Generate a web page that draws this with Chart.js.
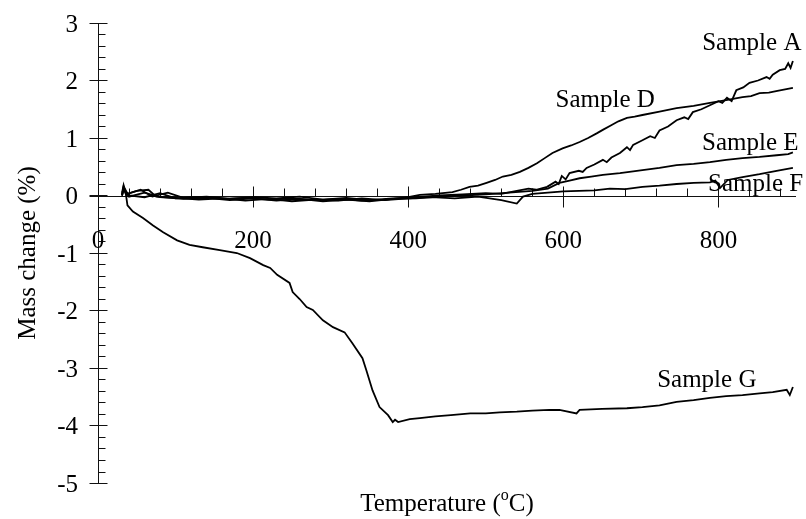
<!DOCTYPE html>
<html>
<head>
<meta charset="utf-8">
<title>Mass change vs temperature</title>
<script src="https://cdn.jsdelivr.net/npm/chart.js@4"></script>
<style>
  body { margin: 0; background: #fff; }
</style>
</head>
<body>
<canvas id="tgChart" width="806" height="519"></canvas>
<script>
// data (temperature in C, mass change in %)
const tempA = [31, 33, 36, 45, 55, 70, 90, 110, 140, 170, 200, 230, 260, 290, 320, 350, 380, 410, 440, 470, 500, 520, 540, 555, 565, 579, 590, 594, 598, 603, 608, 620, 625, 630, 640, 651, 656, 662, 673, 682, 686, 690, 702, 712, 718, 724, 735, 746, 756, 761, 767, 778, 789, 800, 805, 811, 817, 823, 832, 840, 851, 862, 866, 870, 879, 886, 890, 893, 896];
const massA = [0.0, 0.14, 0.02, 0.06, 0.1, -0.02, 0.05, -0.04, -0.02, -0.06, -0.03, -0.05, -0.02, -0.07, -0.04, -0.08, -0.05, -0.03, 0.0, 0.02, 0.04, 0.03, 0.08, 0.12, 0.1, 0.15, 0.24, 0.2, 0.34, 0.28, 0.39, 0.43, 0.41, 0.48, 0.54, 0.62, 0.58, 0.66, 0.74, 0.84, 0.79, 0.88, 0.96, 1.03, 1.0, 1.13, 1.2, 1.31, 1.36, 1.33, 1.45, 1.5, 1.57, 1.64, 1.61, 1.7, 1.64, 1.83, 1.88, 1.96, 2.0, 2.06, 2.03, 2.1, 2.18, 2.2, 2.3, 2.22, 2.34];

const tempD = [31, 33, 40, 60, 80, 100, 130, 160, 190, 220, 250, 280, 310, 340, 370, 395, 415, 435, 457, 468, 479, 490, 501, 512, 522, 533, 544, 555, 566, 576, 586, 599, 610, 621, 632, 643, 652, 660, 671, 682, 692, 702, 724, 746, 768, 789, 810, 831, 842, 853, 865, 876, 896];
const massD = [0.02, 0.12, 0.0, -0.03, 0.04, -0.05, -0.03, -0.06, -0.04, -0.07, -0.05, -0.08, -0.06, -0.09, -0.07, -0.04, 0.01, 0.03, 0.06, 0.1, 0.15, 0.17, 0.22, 0.27, 0.33, 0.36, 0.41, 0.48, 0.56, 0.65, 0.74, 0.82, 0.87, 0.93, 1.0, 1.08, 1.15, 1.21, 1.29, 1.35, 1.37, 1.4, 1.46, 1.52, 1.56, 1.61, 1.66, 1.71, 1.73, 1.78, 1.79, 1.82, 1.87];

const tempE = [31, 33, 40, 60, 80, 110, 140, 170, 200, 230, 260, 290, 320, 350, 380, 410, 440, 470, 500, 530, 560, 580, 595, 608, 621, 636, 651, 673, 690, 702, 724, 746, 768, 789, 810, 831, 853, 875, 890, 896];
const massE = [0.0, 0.1, -0.02, 0.05, -0.03, -0.06, -0.04, -0.08, -0.05, -0.09, -0.06, -0.1, -0.07, -0.1, -0.06, -0.05, -0.02, 0.0, 0.02, 0.05, 0.08, 0.12, 0.22, 0.26, 0.3, 0.33, 0.36, 0.39, 0.42, 0.44, 0.48, 0.53, 0.55, 0.58, 0.62, 0.65, 0.67, 0.7, 0.72, 0.75];

const tempF = [31, 33, 38, 50, 65, 75, 100, 130, 160, 190, 220, 250, 280, 310, 340, 370, 400, 430, 460, 490, 520, 540, 548, 560, 580, 600, 620, 640, 660, 680, 702, 724, 746, 768, 789, 796, 802, 812, 831, 853, 875, 896];
const massF = [0.0, 0.16, 0.03, 0.08, 0.1, -0.02, -0.04, -0.07, -0.05, -0.09, -0.06, -0.1, -0.07, -0.09, -0.05, -0.08, -0.05, -0.03, -0.05, -0.02, -0.08, -0.14, -0.02, 0.03, 0.05, 0.07, 0.08, 0.09, 0.12, 0.11, 0.15, 0.17, 0.2, 0.22, 0.23, 0.26, 0.13, 0.27, 0.32, 0.37, 0.43, 0.48];

const tempG = [31, 33, 36, 38, 45, 58, 71, 84, 102, 118, 135, 157, 179, 196, 213, 222, 231, 247, 251, 260, 269, 277, 290, 303, 318, 328, 341, 346, 354, 363, 374, 380, 383, 387, 402, 415, 435, 455, 480, 500, 518, 540, 560, 582, 595, 617, 621, 650, 682, 702, 724, 746, 768, 789, 810, 831, 853, 870, 888, 892, 896];
const massG = [0.05, 0.18, 0.02, -0.17, -0.28, -0.39, -0.52, -0.64, -0.78, -0.86, -0.9, -0.95, -1.0, -1.09, -1.21, -1.26, -1.38, -1.52, -1.68, -1.8, -1.94, -1.99, -2.17, -2.29, -2.38, -2.57, -2.83, -3.04, -3.39, -3.68, -3.82, -3.94, -3.9, -3.94, -3.89, -3.87, -3.84, -3.82, -3.79, -3.79, -3.77, -3.76, -3.74, -3.73, -3.73, -3.79, -3.73, -3.71, -3.7, -3.68, -3.65, -3.59, -3.56, -3.52, -3.49, -3.47, -3.44, -3.42, -3.38, -3.47, -3.33];

const xTicks = [0, 200, 400, 600, 800];
const yTicks = [3, 2, 1, 0, -1, -2, -3, -4, -5];

// curve names and where they are written (temperature, mass change at the baseline)
const sampleNames = ['Sample A', 'Sample D', 'Sample E', 'Sample F', 'Sample G'];
const nameTemp = [843, 654, 841, 848, 785];
const nameMass = [2.53, 1.54, 0.79, 0.08, -3.33];

const FONT = '25px "Liberation Serif", "Times New Roman", serif';

function pairs(t, m) {
  return t.map((v, i) => ({ x: v, y: m[i] }));
}

const series = [
  pairs(tempA, massA),
  pairs(tempD, massD),
  pairs(tempE, massE),
  pairs(tempF, massF),
  pairs(tempG, massG)
];

// axes crossing at zero with major ticks through the line and minor ticks inside
const axesPlugin = {
  id: 'axesPlugin',
  beforeDatasetsDraw(chart) {
    const { ctx, scales: { x, y } } = chart;
    const x0 = Math.round(x.getPixelForValue(0)) + 0.5;
    const y0 = Math.round(y.getPixelForValue(0)) + 0.5;
    ctx.save();
    ctx.strokeStyle = '#111';
    ctx.lineWidth = 1;
    ctx.beginPath();
    // y axis
    ctx.moveTo(x0, y.getPixelForValue(3));
    ctx.lineTo(x0, y.getPixelForValue(-5));
    // x axis
    ctx.moveTo(x0 - 9, y0);
    ctx.lineTo(x.getPixelForValue(900), y0);
    // y ticks
    for (let v = -5; v <= 3.001; v += 0.2) {
      const py = Math.round(y.getPixelForValue(v)) + 0.5;
      const major = Math.abs(v - Math.round(v)) < 0.01;
      if (major) {
        ctx.moveTo(x0 - 9, py);
        ctx.lineTo(x0 + 9, py);
      } else {
        ctx.moveTo(x0, py);
        ctx.lineTo(x0 + 7, py);
      }
    }
    // x ticks
    for (let t = 40; t <= 900; t += 40) {
      const px = Math.round(x.getPixelForValue(t)) + 0.5;
      if (t % 200 === 0) {
        ctx.moveTo(px, y0 - 10);
        ctx.lineTo(px, y0 + 11);
      } else {
        ctx.moveTo(px, y0 - 8);
        ctx.lineTo(px, y0);
      }
    }
    ctx.stroke();
    ctx.restore();
  },
  afterDatasetsDraw(chart) {
    const { ctx, scales: { x, y } } = chart;
    const x0 = x.getPixelForValue(0);
    const y0 = y.getPixelForValue(0);
    ctx.save();
    ctx.fillStyle = '#000';
    ctx.font = FONT;
    ctx.textBaseline = 'alphabetic';

    ctx.textAlign = 'right';
    yTicks.forEach(v => {
      ctx.fillText(String(v), x0 - 20, y.getPixelForValue(v) + 8.5);
    });

    ctx.textAlign = 'center';
    xTicks.forEach(t => {
      ctx.fillText(String(t), x.getPixelForValue(t), y0 + 52);
    });

    sampleNames.forEach((name, i) => {
      ctx.fillText(name, x.getPixelForValue(nameTemp[i]), y.getPixelForValue(nameMass[i]));
    });

    // x title with superscript o
    const a = 'Temperature (', sup = 'o', b = 'C)';
    const wa = ctx.measureText(a).width, wb = ctx.measureText(b).width;
    ctx.font = '16px "Liberation Serif", "Times New Roman", serif';
    const ws = ctx.measureText(sup).width;
    const cx = (chart.chartArea.left + chart.chartArea.right) / 2;
    let sx = cx - (wa + ws + wb) / 2;
    ctx.textAlign = 'left';
    ctx.font = FONT;
    ctx.fillText(a, sx, 511);
    ctx.font = '16px "Liberation Serif", "Times New Roman", serif';
    ctx.fillText(sup, sx + wa, 500);
    ctx.font = FONT;
    ctx.fillText(b, sx + wa + ws, 511);

    // y title
    ctx.translate(35, (chart.chartArea.top + chart.chartArea.bottom) / 2);
    ctx.rotate(-Math.PI / 2);
    ctx.textAlign = 'center';
    ctx.fillText('Mass change (%)', 0, 0);
    ctx.restore();
  }
};

new Chart(document.getElementById('tgChart').getContext('2d'), {
  type: 'line',
  data: {
    datasets: series.map((pts, i) => ({
      label: sampleNames[i],
      data: pts,
      borderColor: '#000',
      borderWidth: 1.8,
      pointRadius: 0,
      tension: 0,
      fill: false
    }))
  },
  options: {
    responsive: false,
    devicePixelRatio: 1,
    animation: false,
    layout: { padding: { left: 98, right: 10, top: 23, bottom: 36 } },
    plugins: {
      legend: { display: false },
      tooltip: { enabled: false }
    },
    scales: {
      x: { type: 'linear', min: 0, max: 900, display: false },
      y: { type: 'linear', min: -5, max: 3, display: false }
    }
  },
  plugins: [axesPlugin]
});
</script>
</body>
</html>
